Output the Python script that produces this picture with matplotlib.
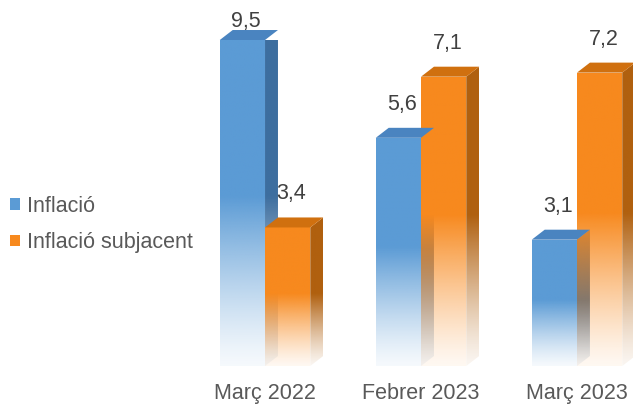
import numpy as np
import matplotlib
matplotlib.use("Agg")
import matplotlib.pyplot as plt
from matplotlib.patches import Polygon, Patch
from matplotlib.colors import to_rgb

# ---- data ----
categories = ["Març 2022", "Febrer 2023", "Març 2023"]
series_names = ["Inflació", "Inflació subjacent"]
inflacio = [9.5, 5.6, 3.1]
subjacent = [3.4, 7.1, 7.2]
labels_inflacio = ["9,5", "5,6", "3,1"]
labels_subjacent = ["3,4", "7,1", "7,2"]

# ---- style ----
W, H, DPI = 633, 404, 100
FONT = "Liberation Sans"
front_cols = ["#5B9BD5", "#F7891E"]
side_cols = ["#3D6E9F", "#B0600F"]
top_cols = ["#4A84C0", "#D0700F"]
YMAX = 8.0
BAR_W = 0.29
DX, DY = 0.083, 0.245

fig = plt.figure(figsize=(W / DPI, H / DPI), dpi=DPI)
ax = fig.add_axes([0, 38 / H, 1, 326 / H])
ax.set_axis_off()


def grad_alpha(t):
    t = np.clip(t, 0, 1)
    return 0.06 + 0.94 * np.clip(t / 0.52, 0, 1) ** 1.25


def grad_face(poly_xy, x0, x1, h, top, color):
    poly = Polygon(poly_xy, closed=True, facecolor="none", edgecolor="none")
    ax.add_patch(poly)
    n = 300
    ys = np.linspace(0, top, n)
    t = ys / h
    rgba = np.zeros((n, 2, 4))
    rgba[..., :3] = to_rgb(color)
    rgba[..., 3] = grad_alpha(t)[:, None]
    im = ax.imshow(rgba, extent=(x0, x1, 0, top), origin="lower",
                   aspect="auto", interpolation="bilinear", zorder=2)
    im.set_clip_path(poly)
    im.set_clip_box(None)


def bar3d(xl, value, k):
    h = min(value, YMAX)
    xr = xl + BAR_W
    # side face
    side = [(xr, 0), (xr + DX, DY), (xr + DX, h + DY), (xr, h)]
    grad_face(side, xr, xr + DX, h, h + DY, side_cols[k])
    # front face
    front = [(xl, 0), (xr, 0), (xr, h), (xl, h)]
    grad_face(front, xl, xr, h, h, front_cols[k])
    # top face
    topf = Polygon([(xl, h), (xl + DX, h + DY), (xr + DX, h + DY), (xr, h)],
                   closed=True, facecolor=top_cols[k], edgecolor="none",
                   zorder=3, clip_on=False)
    ax.add_patch(topf)


x = np.arange(len(categories))
for i in range(len(categories)):
    for k, (vals, labs) in enumerate([(inflacio, labels_inflacio),
                                      (subjacent, labels_subjacent)]):
        xl = x[i] - BAR_W + k * BAR_W
        v = vals[i]
        bar3d(xl, v, k)
        h = min(v, YMAX)
        off = 13 if v <= YMAX else 2
        ax.annotate(labs[i], (xl + BAR_W / 2 + DX * 0.3, h + DY),
                    xytext=(0, off), textcoords="offset points",
                    ha="center", va="baseline", fontsize=15.5,
                    color="#404040", family=FONT, annotation_clip=False)

ax.set_xlim(-1.699, 2.359)
ax.set_ylim(0, YMAX)

for i, c in enumerate(categories):
    ax.annotate(c, (x[i], 0), xytext=(0, -12), textcoords="offset points",
                ha="center", va="top", fontsize=15.5, color="#595959",
                family=FONT, annotation_clip=False)

handles = [Patch(facecolor=front_cols[0]), Patch(facecolor=front_cols[1])]
fig.legend(handles, series_names, loc="center left",
           bbox_to_anchor=(10 / W, (H - 224.5) / H), frameon=False,
           borderpad=0, borderaxespad=0, handlelength=0.45, handleheight=0.45,
           handletextpad=0.35, labelspacing=0.72,
           prop={"family": FONT, "size": 15.5}, labelcolor="#595959")

fig.savefig("out.png", dpi=DPI)
